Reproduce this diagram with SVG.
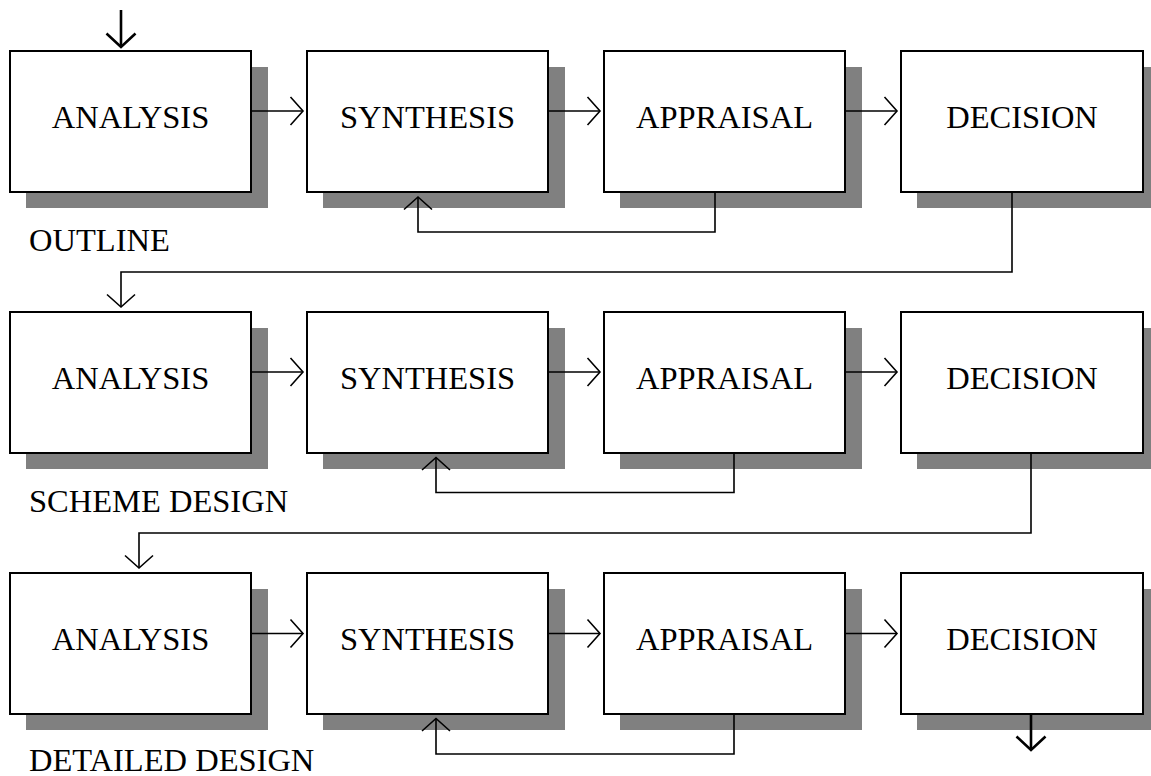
<svg xmlns="http://www.w3.org/2000/svg" width="1151" height="776" viewBox="0 0 1151 776">
  <style>
    .shadow { fill: #808080; stroke: none; }
    .box { fill: #ffffff; stroke: #000000; stroke-width: 2; }
    .label { font-family: "Liberation Serif", "Times New Roman", serif; font-size: 32.5px; fill: #000000; }
    .centered { text-anchor: middle; }
    .conn { fill: none; stroke: #000000; stroke-width: 1.6; }
    .conn-arrow { marker-end: url(#chevron); }
    .terminal { fill: none; stroke: #000000; stroke-width: 2.6; marker-end: url(#chevron-bold); }
  </style>
  <defs>
    <!-- open chevron arrowheads, tip at the path end point -->
    <marker id="chevron" markerUnits="userSpaceOnUse" viewBox="0 0 16 32" refX="14" refY="16" markerWidth="16" markerHeight="32" orient="auto">
      <path d="M1.5,2 L14,16 L1.5,30" fill="none" stroke="#000" stroke-width="1.6"/>
    </marker>
    <marker id="chevron-bold" markerUnits="userSpaceOnUse" viewBox="0 0 18 34" refX="15" refY="17" markerWidth="18" markerHeight="34" orient="auto">
      <path d="M1.5,2.5 L15,17 L1.5,31.5" fill="none" stroke="#000" stroke-width="2.6"/>
    </marker>
  </defs>

  <!-- Stage: OUTLINE -->
  <g id="outline-analysis">
    <rect class="shadow" x="26" y="67" width="242" height="141"/>
    <rect class="box" x="10" y="51" width="241" height="141"/>
    <text class="label centered" x="130.5" y="128.3">ANALYSIS</text>
  </g>
  <g id="outline-synthesis">
    <rect class="shadow" x="323" y="67" width="242" height="141"/>
    <rect class="box" x="307" y="51" width="241" height="141"/>
    <text class="label centered" x="427.5" y="128.3">SYNTHESIS</text>
  </g>
  <g id="outline-appraisal">
    <rect class="shadow" x="620" y="67" width="242" height="141"/>
    <rect class="box" x="604" y="51" width="241" height="141"/>
    <text class="label centered" x="724.5" y="128.3">APPRAISAL</text>
  </g>
  <g id="outline-decision">
    <rect class="shadow" x="917" y="67" width="243" height="141"/>
    <rect class="box" x="901" y="51" width="242" height="141"/>
    <text class="label centered" x="1022" y="128.3">DECISION</text>
  </g>
  <g id="outline-label">
    <text class="label" x="29" y="251">OUTLINE</text>
  </g>

  <!-- Stage: SCHEME DESIGN -->
  <g id="scheme-analysis">
    <rect class="shadow" x="26" y="328" width="242" height="141"/>
    <rect class="box" x="10" y="312" width="241" height="141"/>
    <text class="label centered" x="130.5" y="389.3">ANALYSIS</text>
  </g>
  <g id="scheme-synthesis">
    <rect class="shadow" x="323" y="328" width="242" height="141"/>
    <rect class="box" x="307" y="312" width="241" height="141"/>
    <text class="label centered" x="427.5" y="389.3">SYNTHESIS</text>
  </g>
  <g id="scheme-appraisal">
    <rect class="shadow" x="620" y="328" width="242" height="141"/>
    <rect class="box" x="604" y="312" width="241" height="141"/>
    <text class="label centered" x="724.5" y="389.3">APPRAISAL</text>
  </g>
  <g id="scheme-decision">
    <rect class="shadow" x="917" y="328" width="243" height="141"/>
    <rect class="box" x="901" y="312" width="242" height="141"/>
    <text class="label centered" x="1022" y="389.3">DECISION</text>
  </g>
  <g id="scheme-label">
    <text class="label" x="29" y="512">SCHEME DESIGN</text>
  </g>

  <!-- Stage: DETAILED DESIGN -->
  <g id="detailed-analysis">
    <rect class="shadow" x="26" y="589" width="242" height="141"/>
    <rect class="box" x="10" y="573" width="241" height="141"/>
    <text class="label centered" x="130.5" y="650.3">ANALYSIS</text>
  </g>
  <g id="detailed-synthesis">
    <rect class="shadow" x="323" y="589" width="242" height="141"/>
    <rect class="box" x="307" y="573" width="241" height="141"/>
    <text class="label centered" x="427.5" y="650.3">SYNTHESIS</text>
  </g>
  <g id="detailed-appraisal">
    <rect class="shadow" x="620" y="589" width="242" height="141"/>
    <rect class="box" x="604" y="573" width="241" height="141"/>
    <text class="label centered" x="724.5" y="650.3">APPRAISAL</text>
  </g>
  <g id="detailed-decision">
    <rect class="shadow" x="917" y="589" width="243" height="141"/>
    <rect class="box" x="901" y="573" width="242" height="141"/>
    <text class="label centered" x="1022" y="650.3">DECISION</text>
  </g>
  <g id="detailed-label">
    <text class="label" x="29" y="771">DETAILED DESIGN</text>
  </g>

  <!-- Connectors -->
  <g id="connectors">
    <!-- entry and exit -->
    <path class="terminal" d="M121,10 V47"/>
    <path class="terminal" d="M1031,714 V750"/>

    <!-- outline row -->
    <path class="conn conn-arrow" d="M251,111 H303"/>
    <path class="conn conn-arrow" d="M548,111 H600"/>
    <path class="conn conn-arrow" d="M845,111 H897"/>
    <path class="conn conn-arrow" d="M715,192 V232 H418 V197"/>
    <path class="conn conn-arrow" d="M1012,192 V272 H121 V307"/>

    <!-- scheme row -->
    <path class="conn conn-arrow" d="M251,372 H303"/>
    <path class="conn conn-arrow" d="M548,372 H600"/>
    <path class="conn conn-arrow" d="M845,372 H897"/>
    <path class="conn conn-arrow" d="M734,453 V492.5 H436 V457.5"/>
    <path class="conn conn-arrow" d="M1031,453 V533 H139 V568"/>

    <!-- detailed row -->
    <path class="conn conn-arrow" d="M251,633.5 H303"/>
    <path class="conn conn-arrow" d="M548,633.5 H600"/>
    <path class="conn conn-arrow" d="M845,633.5 H897"/>
    <path class="conn conn-arrow" d="M734,714 V754 H436 V718.5"/>
  </g>
</svg>
